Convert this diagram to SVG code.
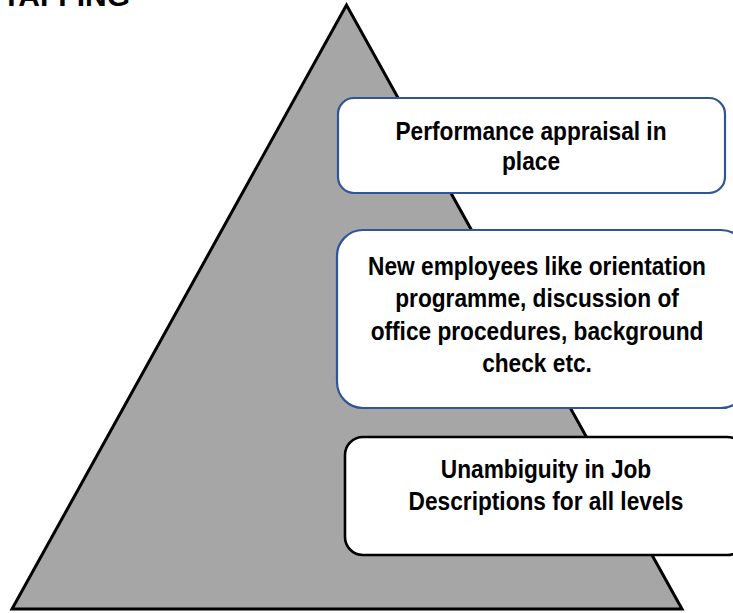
<svg xmlns="http://www.w3.org/2000/svg" width="733" height="613" viewBox="0 0 733 613">
<style>
text{font-family:"Liberation Sans",Arial,sans-serif;font-weight:bold;fill:#000;text-anchor:middle}
.lbl{font-size:25.5px}
.box{fill:#fff}
.blue{stroke:#2f5597;stroke-width:2.2}
.blk{stroke:#000;stroke-width:2.6}
</style>
<rect width="733" height="613" fill="#fff"/>
<text x="130" y="6" style="font-size:30px;text-anchor:end">TAFFING</text>
<g id="pyramid">
<polygon points="346.5,5 12,609 682,609" fill="#a6a6a6" stroke="#000" stroke-width="3" stroke-linejoin="miter"/>
</g>
<g id="connectors"></g>
<g id="node-performance">
<rect class="box blue" x="338" y="98" width="387" height="95" rx="16"/>
<g transform="translate(531,0) scale(0.89,1)">
<text class="lbl" x="0" y="140">Performance appraisal in</text>
<text class="lbl" x="0" y="170">place</text>
</g>
</g>
<g id="node-new-employees">
<rect class="box blue" x="337" y="230" width="410" height="178" rx="26"/>
<g transform="translate(537,0) scale(0.89,1)">
<text class="lbl" x="0" y="275">New employees like orientation</text>
<text class="lbl" x="0" y="307">programme, discussion of</text>
<text class="lbl" x="0" y="340">office procedures, background</text>
<text class="lbl" x="0" y="372">check etc.</text>
</g>
</g>
<g id="node-unambiguity">
<rect class="box blk" x="345" y="437" width="400" height="118" rx="18"/>
<g transform="translate(546,0) scale(0.89,1)">
<text class="lbl" x="0" y="478">Unambiguity in Job</text>
<text class="lbl" x="0" y="510">Descriptions for all levels</text>
</g>
</g>
</svg>
